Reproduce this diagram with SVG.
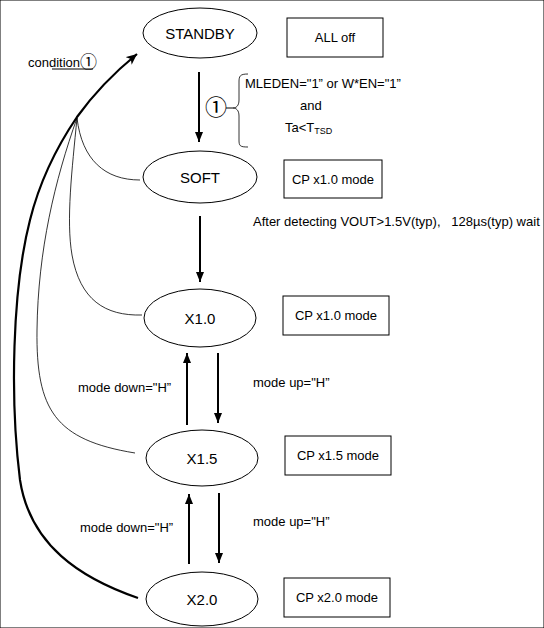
<svg xmlns="http://www.w3.org/2000/svg" width="544" height="628" viewBox="0 0 544 628">
<defs>
<marker id="ah" viewBox="0 0 10 8" refX="10" refY="4" markerWidth="10" markerHeight="8" markerUnits="userSpaceOnUse" orient="auto">
<path d="M0,0 L10,4 L0,8 Z" fill="#000"/>
</marker>
<marker id="ah2" viewBox="0 0 12 10" refX="11" refY="5" markerWidth="12" markerHeight="10" markerUnits="userSpaceOnUse" orient="auto">
<path d="M0,0 L11,5 L0,10 L3,5 Z" fill="#000"/>
</marker>
<style>
text{font-family:"Liberation Sans",Arial,sans-serif;fill:#000;white-space:pre}
.n{font-size:15px;text-anchor:middle}
.s{font-size:13px}
.c{font-size:13px;text-anchor:middle}
.o{font-family:"Noto Sans CJK JP","Liberation Sans",sans-serif}
ellipse,rect{fill:#fff;stroke:#000;stroke-width:1}
.a{stroke:#000;stroke-width:2;fill:none;marker-end:url(#ah)}
.t{stroke:#000;stroke-width:0.8;fill:none}
</style>
</defs>
<rect width="544" height="628" fill="#fff"/>
<g id="connectors">
<path class="a" d="M199,72 V142"/>
<path class="a" d="M200,216 V282"/>
<path class="a" d="M187,425 V353"/>
<path class="a" d="M218,353 V423"/>
<path class="a" d="M189,564 V494"/>
<path class="a" d="M219,493 V563"/>
<path class="t" d="M77,118 C82,160 105,180 140,180"/>
<path class="t" d="M77,118 C72,170 66,220 72,255 C80,300 105,316 142,315"/>
<path class="t" d="M77,118 C55,180 38,250 37,330 C36,410 55,440 135,453"/>
<path d="M138,598 C80,578 30,545 20,480 C10,400 12,290 30,220 C40,180 58,145 77,117 C95,92 115,72 137,54" stroke="#000" stroke-width="2.2" fill="none" marker-end="url(#ah2)"/>
<path class="t" d="M248,74 C240,74 239,76 239,82 V100 C239,106 236,108 233,108 C236,108 239,110 239,116 V140 C239,146 240,147 248,147"/>
<path d="M226,108 H233" stroke="#000" stroke-width="1"/>
</g>
<g id="standby"><ellipse cx="200" cy="33" rx="57" ry="25"/><text class="n" x="200" y="39">STANDBY</text></g>
<g id="alloff"><rect x="287" y="18" width="96" height="39"/><text class="c" x="335" y="42">ALL off</text></g>
<g id="soft"><ellipse cx="200" cy="177" rx="57" ry="26"/><text class="n" x="200" y="183">SOFT</text></g>
<g id="cp10a"><rect x="284" y="160" width="98" height="38"/><text class="c" x="333" y="184">CP x1.0 mode</text></g>
<g id="x10"><ellipse cx="200" cy="318" rx="56" ry="29"/><text class="n" x="200" y="324">X1.0</text></g>
<g id="cp10b"><rect x="283" y="296" width="106" height="39"/><text class="c" x="336" y="320">CP x1.0 mode</text></g>
<g id="x15"><ellipse cx="202" cy="458" rx="56" ry="28"/><text class="n" x="202" y="464">X1.5</text></g>
<g id="cp15"><rect x="285" y="436" width="106" height="39"/><text class="c" x="338" y="460">CP x1.5 mode</text></g>
<g id="x20"><ellipse cx="202" cy="599" rx="56" ry="27"/><text class="n" x="202" y="605">X2.0</text></g>
<g id="cp20"><rect x="284" y="578" width="106" height="39"/><text class="c" x="337" y="602">CP x2.0 mode</text></g>
<g id="labels">
<text class="s" x="28" y="67">condition<tspan class="o" font-size="17" dy="1">①</tspan></text>
<path d="M52,69 H93" stroke="#000" stroke-width="1"/>
<text class="o" x="205" y="115" font-size="22">①</text>
<text class="s" x="245" y="88">MLEDEN="1” or W*EN="1”</text>
<text class="s" x="300" y="110">and</text>
<text class="s" x="285" y="132">Ta&lt;T<tspan font-size="9" dy="2">TSD</tspan></text>
<text class="s" x="253" y="226">After detecting VOUT&gt;1.5V(typ),   128µs(typ) wait</text>
<text class="s" x="78" y="392">mode down="H”</text>
<text class="s" x="253" y="387">mode up="H”</text>
<text class="s" x="80" y="532">mode down="H”</text>
<text class="s" x="253" y="526">mode up="H”</text>
</g>
</svg>
